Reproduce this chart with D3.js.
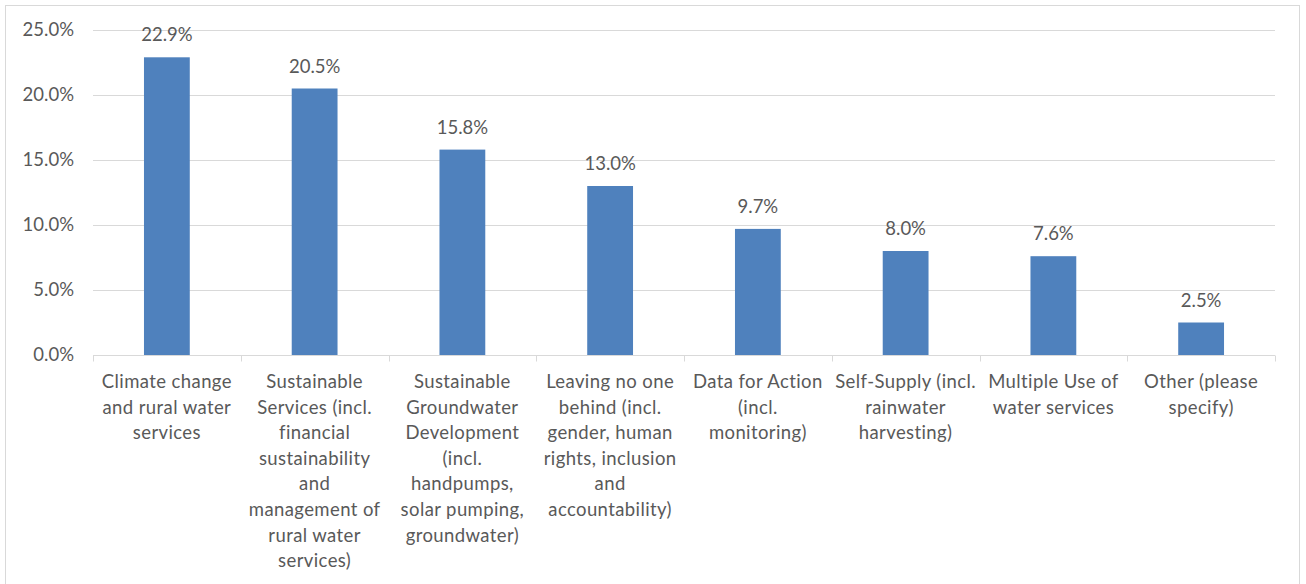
<!DOCTYPE html>
<html>
<head>
<meta charset="utf-8">
<script src="https://cdn.jsdelivr.net/npm/d3@7"></script>
<style>
  body { margin: 0; background: #fff; }
  text { font-family: Lato, "Open Sans", sans-serif; fill: #595959; }
</style>
</head>
<body>
<script>
const categories = [
  ["Climate change", "and rural water", "services"],
  ["Sustainable", "Services (incl.", "financial", "sustainability", "and", "management of", "rural water", "services)"],
  ["Sustainable", "Groundwater", "Development", "(incl.", "handpumps,", "solar pumping,", "groundwater)"],
  ["Leaving no one", "behind (incl.", "gender, human", "rights, inclusion", "and", "accountability)"],
  ["Data for Action", "(incl.", "monitoring)"],
  ["Self-Supply (incl.", "rainwater", "harvesting)"],
  ["Multiple Use of", "water services"],
  ["Other (please", "specify)"]
];
const values = [22.9, 20.5, 15.8, 13.0, 9.7, 8.0, 7.6, 2.5];
const yTicks = [0, 5, 10, 15, 20, 25];

const width = 1306, height = 584;
const margin = { top: 30, right: 31, bottom: 229, left: 93 };

const svg = d3.select("body").append("svg")
  .attr("width", width)
  .attr("height", height);

// chart frame
svg.append("rect")
  .attr("x", 5.5).attr("y", 5.5)
  .attr("width", 1294).attr("height", 600)
  .attr("fill", "none")
  .attr("stroke", "#d9d9d9");

const x = d3.scaleBand()
  .domain(d3.range(values.length))
  .range([margin.left, width - margin.right])
  .paddingInner(0.69)
  .paddingOuter(0.345);

const y = d3.scaleLinear()
  .domain([0, 25])
  .range([height - margin.bottom, margin.top]);

// gridlines
svg.append("g")
  .selectAll("line")
  .data(yTicks.slice(1))
  .join("line")
  .attr("x1", margin.left)
  .attr("x2", width - margin.right)
  .attr("y1", d => Math.round(y(d)) + 0.5)
  .attr("y2", d => Math.round(y(d)) + 0.5)
  .attr("stroke", "#d9d9d9");

// y labels
svg.append("g")
  .selectAll("text")
  .data(yTicks)
  .join("text")
  .attr("x", 74)
  .attr("y", d => y(d))
  .attr("dy", "0.35em")
  .attr("text-anchor", "end")
  .attr("font-size", 18.5)
  .text(d => d.toFixed(1) + "%");

// bars
svg.append("g")
  .selectAll("rect")
  .data(values)
  .join("rect")
  .attr("x", (d, i) => x(i))
  .attr("y", d => y(d))
  .attr("width", x.bandwidth())
  .attr("height", d => y(0) - y(d))
  .attr("fill", "#4f81bd");

// value labels
svg.append("g")
  .selectAll("text")
  .data(values)
  .join("text")
  .attr("x", (d, i) => x(i) + x.bandwidth() / 2)
  .attr("y", d => y(d) - 16)
  .attr("text-anchor", "middle")
  .attr("font-size", 18.5)
  .text(d => d.toFixed(1) + "%");

// baseline + category ticks
const base = Math.round(y(0)) + 0.5;
svg.append("line")
  .attr("x1", margin.left).attr("x2", width - margin.right)
  .attr("y1", base).attr("y2", base)
  .attr("stroke", "#d9d9d9");

const step = x.step();
svg.append("g")
  .selectAll("line")
  .data(d3.range(values.length + 1))
  .join("line")
  .attr("x1", i => Math.round(margin.left + i * step) + 0.5)
  .attr("x2", i => Math.round(margin.left + i * step) + 0.5)
  .attr("y1", base)
  .attr("y2", base + 6)
  .attr("stroke", "#d9d9d9");

// category labels
const cat = svg.append("g")
  .selectAll("text")
  .data(categories)
  .join("text")
  .attr("x", (d, i) => x(i) + x.bandwidth() / 2)
  .attr("y", 388)
  .attr("text-anchor", "middle")
  .attr("font-size", 18.5)
  .attr("letter-spacing", 0.4);

cat.selectAll("tspan")
  .data(d => d)
  .join("tspan")
  .attr("x", function () { return this.parentNode.getAttribute("x"); })
  .attr("dy", (d, i) => i === 0 ? 0 : 25.6)
  .text(d => d);
</script>
</body>
</html>
